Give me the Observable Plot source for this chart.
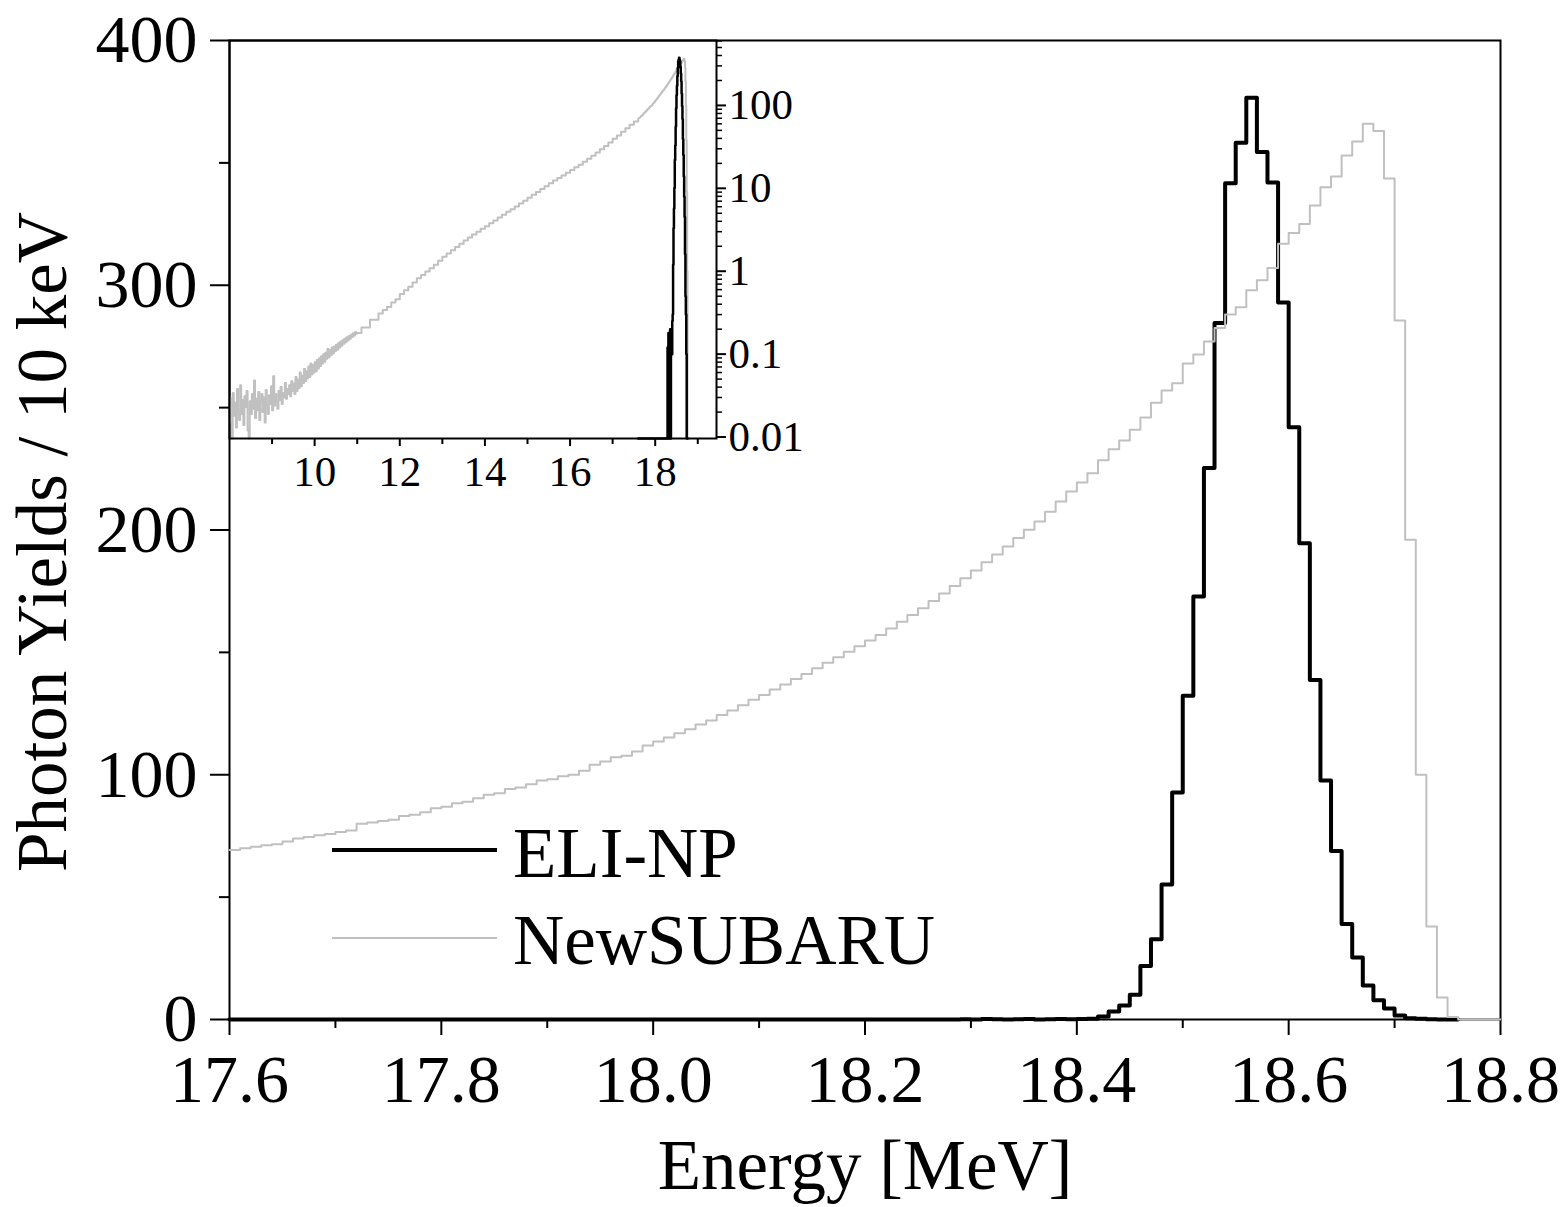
<!DOCTYPE html>
<html>
<head>
<meta charset="utf-8">
<script src="https://cdn.jsdelivr.net/npm/d3@7"></script>
<script src="https://cdn.jsdelivr.net/npm/@observablehq/plot@0.6"></script>
<style>
  body { margin: 0; background: #fff; }
  #chart { position: relative; width: 1567px; height: 1207px; font-family: 'Liberation Serif', 'Times New Roman', serif; }
  #chart svg { position: absolute; left: 0; top: 0; }
  #legend { position: absolute; left: 332px; top: 810px; font-size: 71px; color: #000; }
  #legend .row { height: 87px; line-height: 87px; white-space: nowrap; }
  #legend .sw { display: inline-block; width: 165px; height: 0; margin-right: 16px; vertical-align: 25px; }
</style>
</head>
<body>
<div id="chart"></div>
<script>
// ---------- data ----------
// Main histograms: 10 keV bins starting at 17.60 MeV
const binStart = 17.6;
const binWidth = 0.01;

const eliNP = [
  0, 0, 0, 0, 0, 0, 0, 0, 0, 0,
  0, 0, 0, 0, 0, 0, 0, 0, 0, 0,
  0, 0, 0, 0, 0, 0, 0, 0, 0, 0,
  0, 0, 0, 0, 0, 0, 0, 0, 0, 0,
  0, 0, 0, 0, 0, 0, 0, 0, 0, 0,
  0, 0, 0, 0, 0, 0, 0, 0, 0, 0,
  0, 0, 0, 0, 0, 0, 0, 0, 0,
  0.12, 0, 0.18, 0.1, 0, 0.15, 0.2, 0, 0.12, 0.16, 0.1, 0.25,
  0.3, 1.2, 3.3, 5.7, 10.1, 21.9, 32.8, 55.2, 92.7, 132.3,
  172.8, 225.3, 284.6, 341.7, 358.2, 376.6, 354.4, 342.0, 293.0, 242.0,
  194.6, 138.7, 97.6, 68.8, 39.0, 25.3, 13.9, 7.9, 4.5, 1.6,
  0.5, 0.3, 0.1, 0, 0
];

const newSUBARU = [
  69.3, 70.0, 70.6, 71.2, 71.6, 72.7, 74.0, 74.6, 75.3, 75.8,
  76.6, 77.2, 80.0, 80.5, 81.1, 81.6, 83.1, 83.7, 84.7, 86.3,
  86.9, 88.4, 89.0, 90.4, 91.8, 92.4, 94.2, 94.8, 96.1, 97.6,
  98.2, 99.4, 100.0, 101.6, 104.1, 105.4, 107.2, 107.8, 109.5, 112.0,
  113.6, 115.2, 117.0, 118.6, 120.5, 122.2, 124.4, 126.3, 128.4, 130.6,
  132.6, 134.8, 136.9, 139.1, 141.2, 143.5, 145.8, 148.0, 150.3, 152.5,
  154.9, 157.1, 159.8, 162.5, 165.3, 168.0, 171.0, 174.1, 177.1, 180.3,
  183.5, 186.8, 190.0, 193.3, 196.7, 200.1, 203.5, 207.5, 211.6, 215.7,
  219.4, 223.2, 228.5, 233.0, 236.6, 241.0, 246.0, 252.0, 257.0, 260.0,
  268.0, 271.7, 277.0, 282.5, 288.0, 291.0, 298.0, 302.0, 307.0, 317.0,
  321.3, 325.0, 332.6, 340.0, 344.4, 353.0, 358.7, 366.0, 363.0, 343.6,
  285.6, 196.0, 100.0, 38.0, 9.0, 1.0, 0, 0, 0, 0
];

// Inset: NewSUBARU low-energy part (log scale), noisy region
const insetNoisyStart = 8.0;
const insetNoisyStep = 0.025;
const insetNoisy = [
  0.030, 0.015, 0, 0.034, 0.018, 0.026, 0.013, 0.038, 0.021, 0.016,
  0.042, 0.019, 0.028, 0.014, 0.031, 0.023, 0.036, 0.012, 0, 0.027,
  0.019, 0.033, 0.022, 0.048, 0.017, 0.029, 0.021, 0.035, 0.016, 0.027,
  0.033, 0.020, 0.030, 0.015, 0.037, 0.024, 0.019, 0.032, 0.025, 0.041,
  0.021, 0.054, 0.024, 0.033, 0.027, 0.022, 0.036, 0.028, 0.040, 0.025,
  0.034, 0.030, 0.045, 0.029, 0.038, 0.033, 0.042, 0.031, 0.047, 0.036,
  0.044, 0.033, 0.053, 0.036, 0.049, 0.039, 0.060, 0.041, 0.055, 0.045,
  0.066, 0.047, 0.062, 0.051, 0.071, 0.053, 0.077, 0.057, 0.074, 0.060,
  0.080, 0.062, 0.085, 0.067, 0.089, 0.072, 0.094, 0.077, 0.100, 0.081,
  0.104, 0.088, 0.115, 0.092, 0.112, 0.097, 0.120, 0.102, 0.124, 0.108,
  0.130, 0.113, 0.135, 0.120, 0.141, 0.126, 0.147, 0.133, 0.153, 0.139,
  0.160, 0.146, 0.166, 0.153, 0.172, 0.161, 0.179, 0.168, 0.185, 0.176
];
// Inset: NewSUBARU smooth region
const insetSmoothStart = 11.0;
const insetSmoothStep = 0.1;
const insetSmooth = [
  0.18, 0.21, 0.21, 0.26, 0.26, 0.31, 0.34, 0.37, 0.42, 0.46,
  0.53, 0.59, 0.65, 0.73, 0.82, 0.90, 0.99, 1.09, 1.20, 1.34,
  1.50, 1.64, 1.79, 1.96, 2.15, 2.35, 2.55, 2.77, 3.00, 3.25,
  3.50, 3.80, 4.10, 4.45, 4.80, 5.20, 5.60, 6.05, 6.55, 7.10,
  7.70, 8.35, 9.05, 9.80, 10.6, 11.5, 12.4, 13.3, 14.3, 15.4,
  16.6, 17.9, 19.3, 20.9, 22.7, 24.8, 27.0, 29.6, 32.4, 35.6,
  39.5, 43.5, 48.0, 53.0, 58.5, 64.0
];

// Axes ticks / labels
const xTicksMain = [17.6, 17.8, 18.0, 18.2, 18.4, 18.6, 18.8];
const xMinorMain = [17.7, 17.9, 18.1, 18.3, 18.5, 18.7];
const yTicksMain = [0, 100, 200, 300, 400];
const yMinorMain = [50, 150, 250, 350];
const xTicksInset = [10, 12, 14, 16, 18];
const xMinorInset = [9, 11, 13, 15, 17, 19];
const yTicksInset = [0.01, 0.1, 1, 10, 100];
const xTitle = "Energy [MeV]";
const yTitle = "Photon Yields / 10 keV";
const seriesNames = ["ELI-NP", "NewSUBARU"];

// ---------- styles ----------
const FONT = "'Liberation Serif', 'Times New Roman', serif";
const GREY = "#c0c0c0";
const seriesStyle = {
  "ELI-NP": {stroke: "#000", main: 4, inset: 2.5, legend: 4},
  "NewSUBARU": {stroke: GREY, main: 2, inset: 2, legend: 2.5}
};

// ---------- helpers ----------
function hist(start, width, values, close = true) {
  const pts = values.map((v, i) => ({x: start + i * width, y: v}));
  if (close) pts.push({x: start + values.length * width, y: values[values.length - 1]});
  return pts;
}
const posLog = (pts) => pts.map(d => ({x: d.x, y: d.y > 0 ? d.y : 1e-5}));

const eliPts = hist(binStart, binWidth, eliNP);
const subaruPts = hist(binStart, binWidth, newSUBARU);

const insetSubaru = posLog([
  ...hist(insetNoisyStart, insetNoisyStep, insetNoisy, false),
  ...hist(insetSmoothStart, insetSmoothStep, insetSmooth, false),
  ...subaruPts
]);
const insetEli = posLog(eliPts);

const yMinorInset = [];
for (const d of yTicksInset) for (let m = 2; m <= 9; m++) if (d * m <= 607) yMinorInset.push(+(d * m).toPrecision(3));

// ---------- main plot ----------
const main = Plot.plot({
  width: 1567, height: 1207,
  marginLeft: 229, marginRight: 67, marginTop: 40, marginBottom: 188,
  x: {domain: [17.6, 18.8]},
  y: {domain: [0, 400]},
  style: {fontFamily: FONT, fontSize: "68px", color: "black", background: "white", overflow: "visible"},
  marks: [
    Plot.frame({stroke: "black", strokeWidth: 2}),
    Plot.axisX({ticks: xTicksMain, tickSize: 16, tickPadding: 18, tickFormat: d => d.toFixed(1), strokeWidth: 2, label: null}),
    Plot.axisX({ticks: xMinorMain, tickSize: 9, tickFormat: () => "", strokeWidth: 2, label: null}),
    Plot.axisY({ticks: yTicksMain, tickSize: 19, tickPadding: 13, tickFormat: d => String(d), strokeWidth: 2, label: null}),
    Plot.axisY({ticks: yMinorMain, tickSize: 10, tickFormat: () => "", strokeWidth: 2, label: null}),
    Plot.line(eliPts, {x: "x", y: "y", curve: "step-after", stroke: seriesStyle["ELI-NP"].stroke, strokeWidth: seriesStyle["ELI-NP"].main}),
    Plot.line(subaruPts, {x: "x", y: "y", curve: "step-after", stroke: seriesStyle["NewSUBARU"].stroke, strokeWidth: seriesStyle["NewSUBARU"].main}),
    Plot.text([xTitle], {frameAnchor: "bottom", dy: 169, lineAnchor: "bottom", textAnchor: "middle", text: d => d, fontSize: 71}),
    Plot.text([yTitle], {frameAnchor: "left", rotate: -90, dx: -214, dy: 12, lineAnchor: "top", textAnchor: "middle", text: d => d, fontSize: 71})
  ]
});

// ---------- inset ----------
const inset = Plot.plot({
  width: 850, height: 520,
  marginLeft: 229, marginRight: 134, marginTop: 40, marginBottom: 82,
  x: {domain: [8, 19.44]},
  y: {type: "log", domain: [0.0096, 607], clamp: true},
  style: {fontFamily: FONT, fontSize: "43px", color: "black", background: "transparent", overflow: "visible"},
  marks: [
    Plot.line(insetSubaru, {x: "x", y: "y", curve: "step-after", stroke: seriesStyle["NewSUBARU"].stroke, strokeWidth: seriesStyle["NewSUBARU"].inset}),
    Plot.line(insetEli, {x: "x", y: "y", curve: "step-after", stroke: seriesStyle["ELI-NP"].stroke, strokeWidth: seriesStyle["ELI-NP"].inset}),
    Plot.frame({stroke: "black", strokeWidth: 2}),
    Plot.axisX({ticks: xTicksInset, tickSize: 8, tickPadding: 9, tickFormat: d => String(d), strokeWidth: 2, label: null}),
    Plot.axisX({ticks: xMinorInset, tickSize: 6, tickFormat: () => "", strokeWidth: 2, label: null}),
    Plot.axisY({anchor: "right", ticks: yTicksInset, tickSize: 9, tickPadding: 3, tickFormat: d => String(d), strokeWidth: 2, label: null}),
    Plot.axisY({anchor: "right", ticks: yMinorInset, tickSize: 5, tickFormat: () => "", strokeWidth: 1.5, label: null})
  ]
});

const chart = document.getElementById("chart");
chart.appendChild(main);
chart.appendChild(inset);

// ---------- legend ----------
const legend = document.createElement("div");
legend.id = "legend";
for (const name of seriesNames) {
  const row = document.createElement("div");
  row.className = "row";
  const sw = document.createElement("span");
  sw.className = "sw";
  sw.style.borderTop = `${seriesStyle[name].legend}px solid ${seriesStyle[name].stroke}`;
  row.appendChild(sw);
  row.appendChild(document.createTextNode(name));
  legend.appendChild(row);
}
chart.appendChild(legend);
</script>
</body>
</html>
